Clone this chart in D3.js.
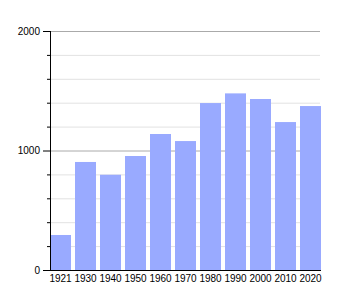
<!DOCTYPE html>
<html><head><meta charset="utf-8">
<script src="https://cdn.jsdelivr.net/npm/d3@7"></script>
<style>body{margin:0;background:#fff}svg{display:block}text{font-family:"Liberation Sans",Arial,sans-serif;font-size:10px;fill:#000}</style>
</head><body>
<svg id="c" width="350" height="300"></svg>
<script>
const years = ["1921","1930","1940","1950","1960","1970","1980","1990","2000","2010","2020"];
const population = [293, 904, 797, 954, 1138, 1079, 1397, 1478, 1431, 1238, 1372];
const majorTicks = [0, 1000, 2000];
const minorTicks = [200, 400, 600, 800, 1200, 1400, 1600, 1800];

const svg = d3.select("#c");
const x = d3.scaleBand().domain(years).range([50, 325]).paddingInner(0.16).paddingOuter(0.08).align(0);
const y = d3.scaleLinear().domain([0, 2000]).range([270, 31]);

// minor gridlines
svg.append("g").selectAll("line").data(minorTicks).join("line")
  .attr("x1", 50).attr("x2", 320).attr("y1", d => y(d) + 0.5).attr("y2", d => y(d) + 0.5)
  .attr("stroke", "#e2e2e2").attr("stroke-width", 1);
// major gridlines
svg.append("g").selectAll("line").data(majorTicks.filter(d => d > 0)).join("line")
  .attr("x1", 50).attr("x2", 320).attr("y1", d => y(d) + 0.5).attr("y2", d => y(d) + 0.5)
  .attr("stroke", "#aaaaaa").attr("stroke-width", 1);

// bars
svg.append("g").selectAll("rect").data(years).join("rect")
  .attr("x", d => x(d)).attr("width", x.bandwidth())
  .attr("y", (d, i) => y(population[i])).attr("height", (d, i) => y(0) - y(population[i]))
  .attr("fill", "#99aaff");

// y axis
const ya = svg.append("g");
ya.append("line").attr("x1", 50.5).attr("x2", 50.5).attr("y1", y(2000)).attr("y2", y(0)).attr("stroke", "#000");
ya.selectAll(".mi").data(minorTicks).join("line").attr("class", "mi")
  .attr("x1", 47).attr("x2", 50).attr("y1", d => y(d) + 0.5).attr("y2", d => y(d) + 0.5).attr("stroke", "#000");
ya.selectAll(".ma").data(majorTicks).join("line").attr("class", "ma")
  .attr("x1", 43).attr("x2", 50).attr("y1", d => y(d) + 0.5).attr("y2", d => y(d) + 0.5).attr("stroke", "#000");
ya.selectAll("text").data(majorTicks).join("text")
  .attr("x", 40).attr("y", d => y(d)).attr("dy", "0.35em").attr("text-anchor", "end").text(d => d);

// x axis
const xa = svg.append("g");
xa.append("line").attr("x1", 50).attr("x2", 321).attr("y1", 270.5).attr("y2", 270.5).attr("stroke", "#000");
xa.selectAll("text").data(years).join("text")
  .attr("x", d => x(d) + x.bandwidth() / 2).attr("y", 278).attr("dy", "0.35em")
  .attr("text-anchor", "middle").text(d => d);
</script>
</body></html>
